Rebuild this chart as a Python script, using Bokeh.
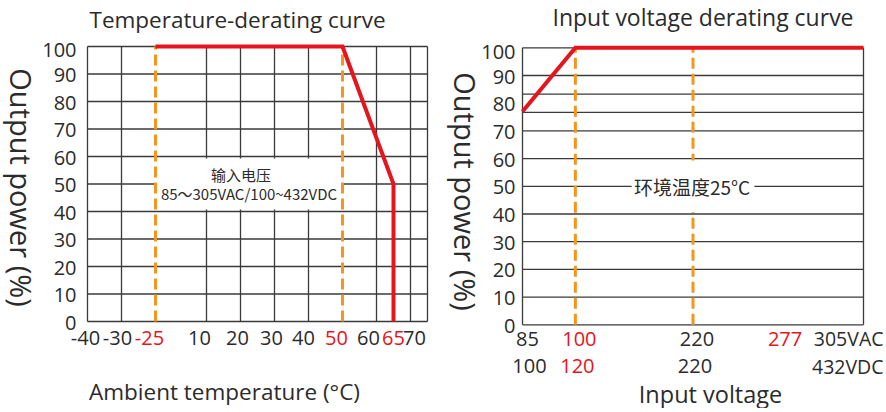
import math
import numpy as np
from bokeh.plotting import figure
from bokeh.layouts import row
from bokeh.models import Label, Range1d
from bokeh.embed import file_html
from bokeh.resources import INLINE

# ---------------- data: temperature derating ----------------
temp_curve_t = [-25, 50, 65, 65]
temp_curve_p = [100, 100, 50, 0]
temp_ticks = [-40, -30, -25, 10, 20, 30, 40, 50, 60, 65, 70]
temp_tick_labels = ["-40", "-30", "-25", "10", "20", "30", "40", "50", "60", "65", "70"]
temp_tick_red = [False, False, True, False, False, False, False, True, False, True, False]
temp_grid = [-40, -30, 10, 20, 30, 40, 60, 70]
temp_dashed = [-25, 50]
temp_note_lines = ["输入电压", "85～305VAC/100~432VDC"]
power_ticks = [0, 10, 20, 30, 40, 50, 60, 70, 80, 90, 100]

# ---------------- data: input voltage derating ----------------
volt_curve_v = [85, 100, 305]
volt_curve_p = [77, 100, 100]
vac_ticks = [85, 100, 220, 277, 305]
vac_labels = ["85", "100", "220", "277", "305VAC"]
vac_red = [False, True, False, True, False]
vdc_labels = ["100", "120", "220", "", "432VDC"]
vdc_red = [False, True, False, False, False]
volt_dashed = [100, 220]
volt_hgrid = [0, 10, 20, 30, 40, 50, 60, 70, 76.7, 83.3, 90, 100]
volt_note = "环境温度25°C"

# ---------------- styling ----------------
RED = "#e5141d"
ORANGE = "#f5941e"
GRID = "#3a3a3a"
TXT = "#2b2b2b"
LATIN = "Open Sans"
CJK = "Noto Sans CJK SC"
ORIGIN = 1  # page offset of the layout

# hand-drawn (piecewise) axes of the original
TEMP_BREAKS = [-40, -30, -25, 10, 75]
TEMP_BREAK_POS = [0, 1, 2, 3.5, 10]
VOLT_BREAKS = [85, 100, 220, 277, 305]
VOLT_BREAK_POS = [0, 15.5, 50, 77, 100]


def tpos(t):
    return [float(v) for v in np.interp(t, TEMP_BREAKS, TEMP_BREAK_POS)]


def vpos(v):
    return [float(x) for x in np.interp(v, VOLT_BREAKS, VOLT_BREAK_POS)]


class Panel:
    """A figure whose frame fills the whole canvas; page-pixel layout helper."""

    def __init__(self, fx, fy, w, h, x0_px, x_px_per_unit, y0_px, y100_px):
        self.fx, self.fy, self.w, self.h = fx, fy, w, h
        ys = (y0_px - y100_px) / 100.0
        xr = Range1d((fx - x0_px) / x_px_per_unit, (fx + w - x0_px) / x_px_per_unit)
        yr = Range1d((y0_px - (fy + h)) / ys, (y0_px - fy) / ys)
        p = figure(width=w, height=h, x_range=xr, y_range=yr, title=None,
                   x_axis_location=None, y_axis_location=None, min_border=0,
                   output_backend="svg", toolbar_location=None, tools="")
        p.outline_line_color = None
        p.background_fill_color = "white"
        p.border_fill_color = "white"
        p.grid.visible = False
        self.p = p

    def hgrid(self, ys, x0, x1):
        self.p.segment(x0=[x0] * len(ys), y0=ys, x1=[x1] * len(ys), y1=ys,
                       line_color=GRID, line_width=1.3)

    def vgrid(self, xs, y0, y1):
        self.p.segment(x0=xs, y0=[y0] * len(xs), x1=xs, y1=[y1] * len(xs),
                       line_color=GRID, line_width=1.3)

    def text(self, x, y, s, size, color=TXT, font=LATIN, units="page", angle=0.0,
             align="center", dx=0, dy=0, baseline="middle"):
        if units == "page":
            x, y = x - self.fx, self.fy + self.h - y
            xu = yu = "screen"
        else:
            xu = yu = "data"
        self.p.add_layout(Label(x=x, y=y, x_units=xu, y_units=yu, text=s,
                                text_font=font, text_font_size=size,
                                text_color=color, angle=angle, text_align=align,
                                text_baseline=baseline, x_offset=dx, y_offset=dy))


H = 408
W1 = 439
W2 = 446
# ================= left chart =================
A = Panel(ORIGIN, ORIGIN, W1, H, x0_px=88, x_px_per_unit=34, y0_px=322, y100_px=47)
p1 = A.p
A.hgrid(power_ticks, TEMP_BREAK_POS[0], TEMP_BREAK_POS[-1])
A.vgrid(tpos(temp_grid) + [TEMP_BREAK_POS[-1]], 0, 100)

d0, d1 = tpos(temp_dashed)
p1.quad(left=[d0], right=[d1], bottom=[40.7], top=[59.3],
        fill_color="white", line_color=None)
p1.segment(x0=tpos(temp_dashed), y0=[0, 0], x1=tpos(temp_dashed), y1=[100, 100],
           line_color=ORANGE, line_width=3, line_dash="11 5")
p1.line(tpos(temp_curve_t), temp_curve_p, line_color=RED, line_width=4,
        line_join="miter")

cx = (d0 + d1) / 2
A.text(cx, 53.5, temp_note_lines[0], "15px", font=CJK, units="data", dx=-8)
A.text(cx, 46.4, temp_note_lines[1], "15px", font=CJK, units="data")

for v in power_ticks:
    A.text(0, v, str(v), "20px", units="data", align="right", dx=-11,
           dy=-3 if v == 100 else -1)

temp_dx = [-2, -4, -6, -7, -3, -3, -5, -6, -8, 0, 4]
for t, s, red, dx in zip(tpos(temp_ticks), temp_tick_labels, temp_tick_red, temp_dx):
    A.text(t, 0, s, "20px", color=RED if red else TXT, units="data", dx=dx, dy=-16)

A.text(90, 20, "Temperature-derating curve", "22.5px", align="left")
A.text(225, 392, "Ambient temperature (°C)", "22.5px")
A.text(22, 188, "Output power (%)", "29px", angle=-math.pi / 2)

# ================= right chart =================
B = Panel(ORIGIN + W1, ORIGIN, W2, H, x0_px=523, x_px_per_unit=3.41,
          y0_px=325.3, y100_px=48.3)
p2 = B.p
B.hgrid(volt_hgrid, VOLT_BREAK_POS[0], VOLT_BREAK_POS[-1])
B.vgrid([VOLT_BREAK_POS[0], VOLT_BREAK_POS[-1]], 0, 100)

p2.segment(x0=vpos(volt_dashed), y0=[0, 0], x1=vpos(volt_dashed), y1=[100, 100],
           line_color=ORANGE, line_width=3, line_dash="11 5")
nx = vpos([220])[0]
p2.quad(left=[nx - 18], right=[nx + 18], bottom=[40.7], top=[59.3],
        fill_color="white", line_color=None)
p2.line(vpos(volt_curve_v), volt_curve_p, line_color=RED, line_width=4,
        line_join="miter")
B.text(nx, 50, volt_note, "19px", font=CJK, units="data", dx=-1)

for v in power_ticks:
    B.text(0, v, str(v), "20px", units="data", align="right", dx=-7,
           dy=-4 if v == 100 else -1)

vac_dx = [5, 4, 4, 0]
vdc_dx = [7, 2, 2, 0]
for v, s, red, dx in zip(vpos(vac_ticks[:-1]), vac_labels[:-1], vac_red[:-1], vac_dx):
    B.text(v, 0, s, "20px", color=RED if red else TXT, units="data", dx=dx, dy=-14)
for v, s, red, dx in zip(vpos(vac_ticks[:-1]), vdc_labels[:-1], vdc_red[:-1], vdc_dx):
    if s:
        B.text(v, 0, s, "20px", color=RED if red else TXT, units="data", dx=dx, dy=-41)
B.text(884, 339, vac_labels[-1], "19.5px", align="right")
B.text(884, 366.5, vdc_labels[-1], "19.5px", align="right")

B.text(553, 17, "Input voltage derating curve", "23px", align="left")
B.text(711, 394, "Input voltage", "23.5px")
B.text(466, 192, "Output power (%)", "29px", angle=-math.pi / 2)

layout = row(p1, p2)
open("out.html", "w").write(file_html(layout, INLINE))
